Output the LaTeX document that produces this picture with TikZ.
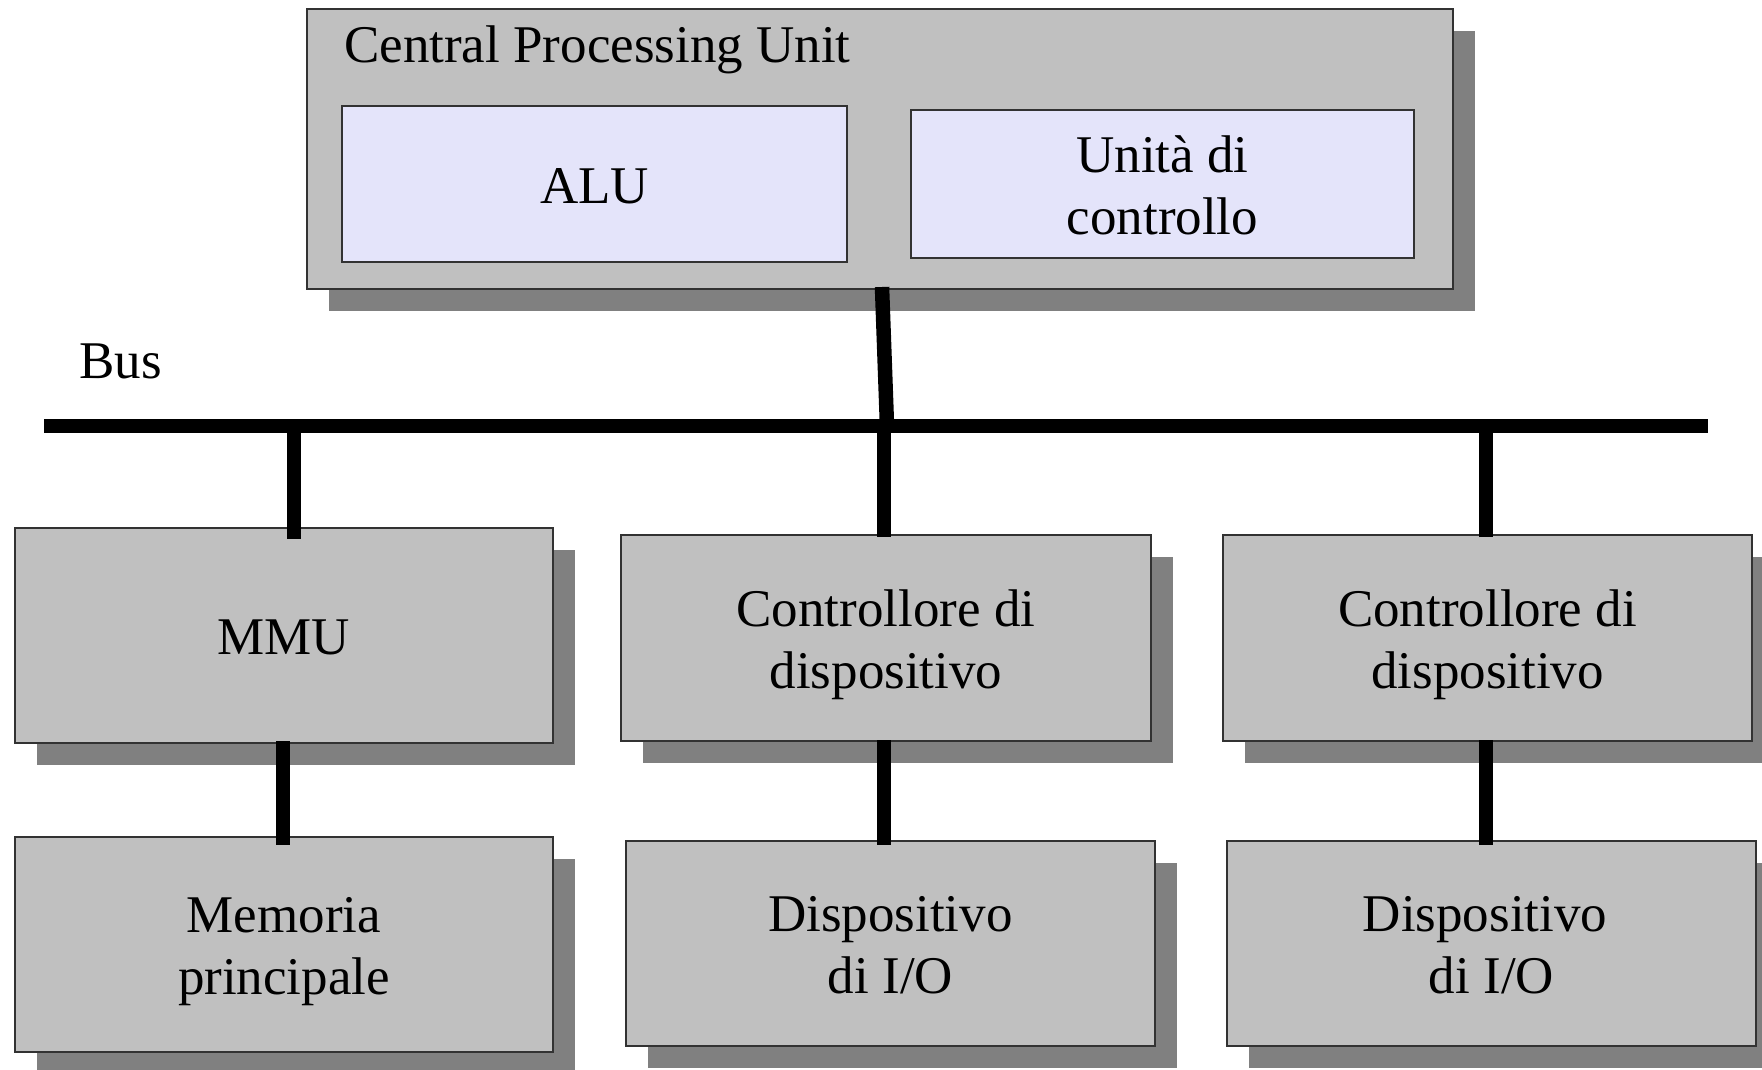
\documentclass[tikz,border=0pt]{standalone}
\usepackage{fontspec}
\setmainfont{Liberation Serif}
\usetikzlibrary{shadows,calc}
\definecolor{boxgray}{RGB}{192,192,192}
\definecolor{shadowgray}{RGB}{128,128,128}
\definecolor{lav}{RGB}{228,228,250}
\definecolor{edge}{RGB}{50,50,50}
\newcommand{\boxtext}[1]{\raisebox{-7pt}[\height][\depth]{\begin{tabular}{@{}c@{}}#1\end{tabular}}}
\begin{document}
\begin{tikzpicture}[x=1pt,y=-1pt,
  txt/.style={font=\fontsize{53}{62}\selectfont},
  box/.style={rectangle, draw=edge, line width=1.2pt, fill=boxgray, inner sep=0pt, outer sep=0pt, txt,
     general shadow={fill=shadowgray, shadow xshift=22pt, shadow yshift=-22pt}},
  inbox/.style={rectangle, draw=edge, line width=1.2pt, fill=lav, inner sep=0pt, outer sep=0pt, txt},
  lbl/.style={inner sep=0pt, anchor=base west, txt},
  conn/.style={line width=14.5pt, black},
]
\useasboundingbox[fill=white] (0,0) rectangle (1762,1069);

% CPU
\node[box, minimum width=1146pt, minimum height=280pt] (cpu) at (880,149) {};
\node[lbl] (title) at (344,62) {Central Processing Unit};
\node[inbox, minimum width=505pt, minimum height=156pt] (alu) at (594.5,184) {\boxtext{ALU}};
\node[inbox, minimum width=503pt, minimum height=148pt] (cu) at (1162.5,184) {\boxtext{Unità di\\controllo}};

% bus
\node[lbl] (buslabel) at (79,378) {Bus};
\coordinate (busL) at (44,426);
\coordinate (busR) at (1708,426);
\coordinate (jcpu) at (887,426);
\coordinate (jmmu) at (294,433);
\coordinate (jc1) at (884,426);
\coordinate (jc2) at (1486,433);

% lower boxes
\node[box, minimum width=538pt, minimum height=215pt] (mmu) at (284,635.5) {\boxtext{MMU}};
\node[box, minimum width=530pt, minimum height=206pt] (ctrlA) at (886,638) {\boxtext{Controllore di\\dispositivo}};
\node[box, minimum width=529pt, minimum height=206pt] (ctrlB) at (1487.5,638) {\boxtext{Controllore di\\dispositivo}};
\node[box, minimum width=538pt, minimum height=215pt] (mem) at (284,944.5) {\boxtext{Memoria\\principale}};
\node[box, minimum width=529pt, minimum height=205pt] (devA) at (890.5,943.5) {\boxtext{Dispositivo\\di I/O}};
\node[box, minimum width=529pt, minimum height=205pt] (devB) at (1491.5,943.5) {\boxtext{Dispositivo\kern13pt\\di I/O}};

% connectors
\draw[conn] (busL) -- (busR);
\draw[conn] ($(cpu.south)+(2,-2)$) -- (jcpu);
\draw[conn] (jmmu) -- ($(jmmu |- mmu.north)+(0,11)$);
\draw[conn] (jc1) -- ($(jc1 |- ctrlA.north)+(0,2)$);
\draw[conn] (jc2) -- ($(jc2 |- ctrlB.north)+(0,2)$);
\draw[conn] ($(mmu.south)+(-1,-2)$) -- ($(mem.north)+(-1,8)$);
\draw[conn] ($(ctrlA.south)+(-2,-1)$) -- ($(devA.north)+(-6.5,4)$);
\draw[conn] ($(ctrlB.south)+(-1.5,-1)$) -- ($(devB.north)+(-5.5,4)$);
\end{tikzpicture}
\end{document}
